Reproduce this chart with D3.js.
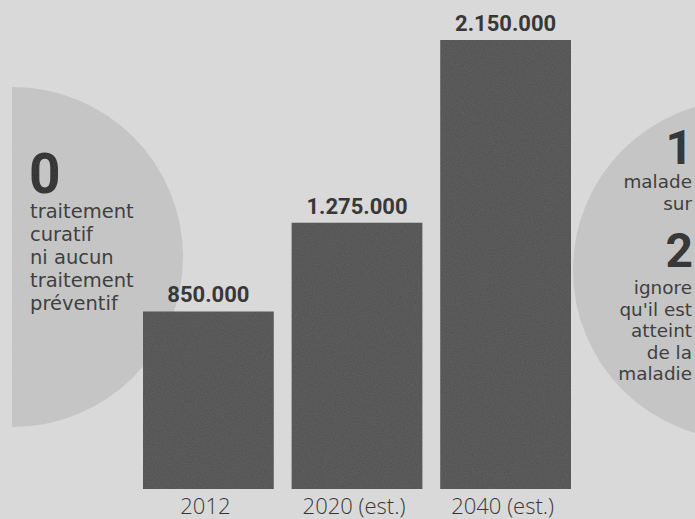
<!DOCTYPE html>
<html>
<head>
<meta charset="utf-8">
<script src="https://cdn.jsdelivr.net/npm/d3@7"></script>
<style>
  html, body { margin: 0; padding: 0; background: #dcdcdc; }
  svg { display: block; font-family: "DejaVu Sans", sans-serif; }
</style>
</head>
<body>
<svg id="chart" width="695" height="519"></svg>
<script>
// data
const years = ['2012', '2020 (est.)', '2040 (est.)']
const patients = [850000, 1275000, 2150000]
const valueLabels = ['850.000', '1.275.000', '2.150.000']

const leftBig = '0'
const leftLines = ['traitement', 'curatif', 'ni aucun', 'traitement', 'préventif']
const rightTop = '1'
const rightTopLines = ['malade', 'sur']
const rightMid = '2'
const rightMidLines = ['ignore', "qu'il est", 'atteint', 'de la', 'maladie']

const width = 695
const height = 519
const baseY = 489
const ink = '#2b2b2b'

const svg = d3.select('#chart')

svg.append('rect')
  .attr('width', width)
  .attr('height', height)
  .style('fill', '#dcdcdc')

// grain
const defs = svg.append('defs')
const grain = defs.append('filter').attr('id', 'grain')
grain.append('feTurbulence')
  .attr('type', 'fractalNoise')
  .attr('baseFrequency', 0.9)
  .attr('numOctaves', 2)
  .attr('seed', 3)
grain.append('feColorMatrix')
  .attr('type', 'matrix')
  .attr('values', '0 0 0 0 0.5  0 0 0 0 0.5  0 0 0 0 0.5  0 0 0 0.18 0')

defs.append('clipPath').attr('id', 'leftClip')
  .append('rect')
  .attr('x', 12).attr('y', 0)
  .attr('width', width).attr('height', height)

// background circles
svg.append('circle')
  .attr('clip-path', 'url(#leftClip)')
  .attr('cx', 13)
  .attr('cy', 257)
  .attr('r', 170)
  .style('fill', '#c6c6c6')

svg.append('circle')
  .attr('cx', 743)
  .attr('cy', 270)
  .attr('r', 170)
  .style('fill', '#c6c6c6')

// bars
const x = d3.scaleBand()
  .domain(years)
  .range([143, 571])
  .paddingInner(0.12)
  .paddingOuter(0)

const y = d3.scaleLinear()
  .domain([0, 2150000])
  .range([baseY, 40])

svg.selectAll('rect.bar')
  .data(years)
  .enter().append('rect')
  .attr('class', 'bar')
  .attr('x', d => x(d))
  .attr('y', (d, i) => y(patients[i]))
  .attr('width', x.bandwidth())
  .attr('height', (d, i) => baseY - y(patients[i]))
  .style('fill', '#4f4f4f')

svg.selectAll('text.value')
  .data(years)
  .enter().append('text')
  .attr('class', 'value')
  .attr('x', d => x(d) + x.bandwidth() / 2)
  .attr('y', (d, i) => y(patients[i]) - 9)
  .attr('text-anchor', 'middle')
  .style('font-family', 'Roboto, sans-serif')
  .style('font-size', '22px')
  .style('font-weight', 700)
  .style('fill', ink)
  .text((d, i) => valueLabels[i])

// year axis
const axis = svg.append('g')
  .attr('transform', 'translate(-3,' + baseY + ')')
  .call(d3.axisBottom(x).tickSize(0).tickPadding(9))

axis.select('.domain').remove()
axis.selectAll('text')
  .attr('dy', '0.71em')
  .style('font-family', '"Open Sans", sans-serif')
  .style('font-size', '22px')
  .style('font-weight', 300)
  .style('fill', ink)

// left annotation
svg.append('text')
  .attr('x', 29)
  .attr('y', 193)
  .style('font-family', 'Roboto, sans-serif')
  .style('font-size', '55px')
  .style('font-weight', 700)
  .style('fill', ink)
  .text(leftBig)

svg.selectAll('text.left')
  .data(leftLines)
  .enter().append('text')
  .attr('class', 'left')
  .attr('x', 30)
  .attr('y', (d, i) => 218 + i * 23)
  .style('font-size', '19.5px')
  .style('fill', '#333')
  .text(d => d)

// right annotation
svg.append('text')
  .attr('x', 693)
  .attr('y', 164)
  .attr('text-anchor', 'end')
  .style('font-family', 'Roboto, sans-serif')
  .style('font-size', '48px')
  .style('font-weight', 700)
  .style('fill', ink)
  .text(rightTop)

svg.selectAll('text.rtop')
  .data(rightTopLines)
  .enter().append('text')
  .attr('class', 'rtop')
  .attr('x', 692)
  .attr('y', (d, i) => 188 + i * 21.6)
  .attr('text-anchor', 'end')
  .style('font-size', '18.4px')
  .style('fill', '#333')
  .text(d => d)

svg.append('text')
  .attr('x', 693)
  .attr('y', 267)
  .attr('text-anchor', 'end')
  .style('font-family', 'Roboto, sans-serif')
  .style('font-size', '48px')
  .style('font-weight', 700)
  .style('fill', ink)
  .text(rightMid)

svg.selectAll('text.rmid')
  .data(rightMidLines)
  .enter().append('text')
  .attr('class', 'rmid')
  .attr('x', 692)
  .attr('y', (d, i) => 294 + i * 21.5)
  .attr('text-anchor', 'end')
  .style('font-size', '18.4px')
  .style('fill', '#333')
  .text(d => d)

// paper texture on top
svg.append('rect')
  .attr('width', width)
  .attr('height', height)
  .attr('filter', 'url(#grain)')
  .style('pointer-events', 'none')
</script>
</body>
</html>
